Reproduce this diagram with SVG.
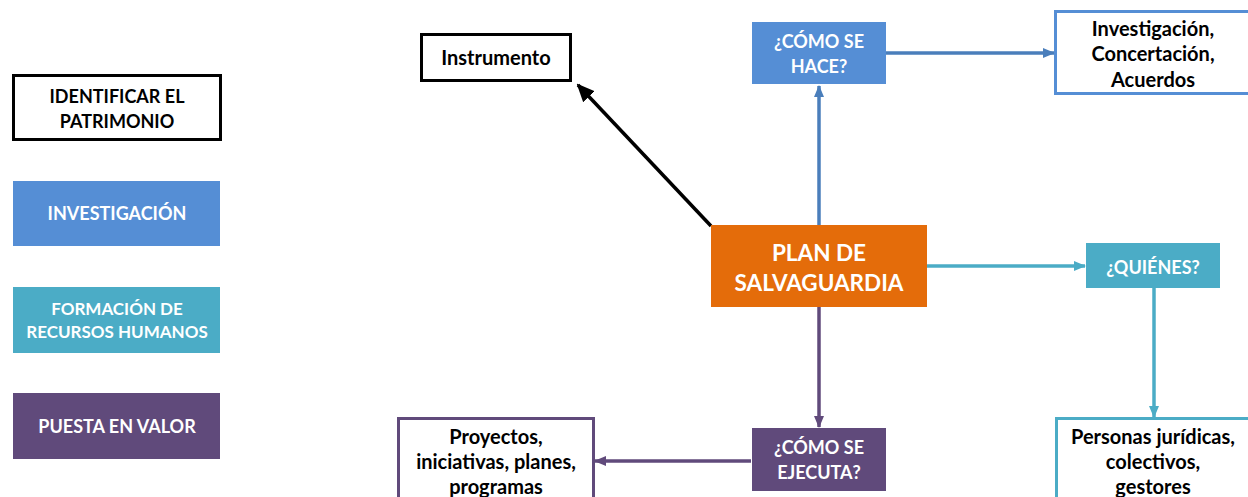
<svg xmlns="http://www.w3.org/2000/svg" width="1248" height="497" viewBox="0 0 1248 497">
<style>
  text { font-family: Lato, "Liberation Sans", sans-serif; font-weight: bold; text-anchor: middle; dominant-baseline: central; }
  .t { font-size: 18px; fill: #000; }
  .l { font-size: 20px; fill: #000; }
  .w { font-size: 18px; fill: #fff; }
  .big { font-size: 22.5px; fill: #fff; }
  .c { fill: none; stroke-width: 3.5; }
</style>
<defs>
  <marker id="aBlk" markerUnits="userSpaceOnUse" markerWidth="18" markerHeight="18" refX="16" refY="9" orient="auto"><path d="M0,1 L18,9 L0,17 Z" fill="#000"/></marker>
  <marker id="aBlu" markerUnits="userSpaceOnUse" markerWidth="12" markerHeight="12" refX="11" refY="6" orient="auto"><path d="M0,1 L12,6 L0,11 Z" fill="#4A7EBB"/></marker>
  <marker id="aTea" markerUnits="userSpaceOnUse" markerWidth="12" markerHeight="12" refX="11" refY="6" orient="auto"><path d="M0,1 L12,6 L0,11 Z" fill="#4BACC6"/></marker>
  <marker id="aPur" markerUnits="userSpaceOnUse" markerWidth="12" markerHeight="12" refX="11" refY="6" orient="auto"><path d="M0,1 L12,6 L0,11 Z" fill="#604A7B"/></marker>
</defs>

<g id="connectors">
  <line class="c" x1="711" y1="226" x2="578" y2="85" stroke="#000" stroke-width="5" marker-end="url(#aBlk)"/>
  <line class="c" x1="819" y1="225" x2="819" y2="86" stroke="#4A7EBB" marker-end="url(#aBlu)"/>
  <line class="c" x1="886" y1="53" x2="1054" y2="53" stroke="#4A7EBB" marker-end="url(#aBlu)"/>
  <line class="c" x1="927" y1="266" x2="1085" y2="266" stroke="#4BACC6" marker-end="url(#aTea)"/>
  <line class="c" x1="1154" y1="288" x2="1154" y2="417" stroke="#4BACC6" marker-end="url(#aTea)"/>
  <line class="c" x1="819" y1="307" x2="819" y2="427" stroke="#604A7B" marker-end="url(#aPur)"/>
  <line class="c" x1="751" y1="461" x2="595" y2="461" stroke="#604A7B" marker-end="url(#aPur)"/>
</g>

<g id="legend-identificar">
  <rect x="13.5" y="75.5" width="207" height="64" fill="#fff" stroke="#000" stroke-width="3"/>
  <text class="t" x="117" y="96">IDENTIFICAR EL</text>
  <text class="t" x="117" y="121">PATRIMONIO</text>
</g>
<g id="legend-investigacion">
  <rect x="13" y="181" width="207" height="65" fill="#558ED5"/>
  <text class="w" x="117" y="213">INVESTIGACIÓN</text>
</g>
<g id="legend-formacion">
  <rect x="13" y="287" width="207" height="66" fill="#4BACC6"/>
  <text class="w" x="117" y="308" style="font-size:17px">FORMACIÓN DE</text>
  <text class="w" x="117" y="331" style="font-size:17px">RECURSOS HUMANOS</text>
</g>
<g id="legend-puesta">
  <rect x="13" y="393" width="207" height="66" fill="#604A7B"/>
  <text class="w" x="117" y="426">PUESTA EN VALOR</text>
</g>

<g id="instrumento">
  <rect x="421.5" y="34.5" width="149" height="46" fill="#fff" stroke="#000" stroke-width="3"/>
  <text class="l" x="496" y="57">Instrumento</text>
</g>
<g id="como-hace">
  <rect x="752" y="22" width="134" height="62" fill="#558ED5"/>
  <text class="w" x="819" y="41">¿CÓMO SE</text>
  <text class="w" x="819" y="66">HACE?</text>
</g>
<g id="investigacion-concertacion">
  <rect x="1055.5" y="11.5" width="200" height="82" fill="#fff" stroke="#558ED5" stroke-width="3"/>
  <text class="l" x="1153" y="28">Investigación,</text>
  <text class="l" x="1153" y="53">Concertación,</text>
  <text class="l" x="1153" y="79">Acuerdos</text>
</g>
<g id="plan">
  <rect x="711" y="225" width="216" height="82" fill="#E46C0A"/>
  <text class="big" x="819" y="252">PLAN DE</text>
  <text class="big" x="819" y="282">SALVAGUARDIA</text>
</g>
<g id="quienes">
  <rect x="1086" y="243" width="134" height="45" fill="#4BACC6"/>
  <text class="w" x="1153" y="267">¿QUIÉNES?</text>
</g>
<g id="personas">
  <rect x="1056.5" y="418.5" width="200" height="90" fill="#fff" stroke="#4BACC6" stroke-width="3"/>
  <text class="l" x="1153" y="436">Personas jurídicas,</text>
  <text class="l" x="1153" y="461">colectivos,</text>
  <text class="l" x="1153" y="486">gestores</text>
</g>
<g id="como-ejecuta">
  <rect x="752" y="428" width="134" height="63" fill="#604A7B"/>
  <text class="w" x="819" y="447">¿CÓMO SE</text>
  <text class="w" x="819" y="472">EJECUTA?</text>
</g>
<g id="proyectos">
  <rect x="398.5" y="418.5" width="195" height="90" fill="#fff" stroke="#604A7B" stroke-width="3"/>
  <text class="l" x="496" y="436">Proyectos,</text>
  <text class="l" x="496" y="461">iniciativas, planes,</text>
  <text class="l" x="496" y="486">programas</text>
</g>
</svg>
